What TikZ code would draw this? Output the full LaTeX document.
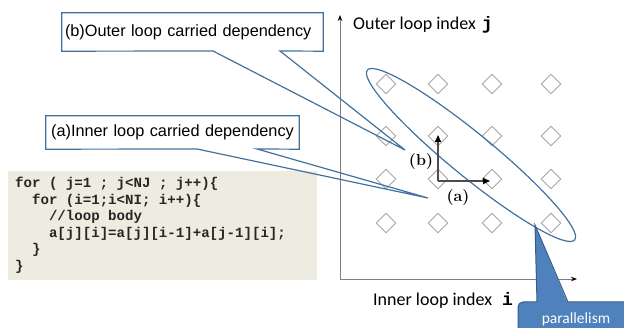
\documentclass[tikz,border=0pt]{standalone}
\usepackage{fontspec}
\newfontfamily\sansf{Liberation Sans}
\newfontfamily\codefont{Liberation Mono}
\newfontfamily\axfont{Carlito}
\usetikzlibrary{shapes.geometric,arrows.meta,calc}
\definecolor{cline}{HTML}{41719C}
\definecolor{pfill}{HTML}{4F81BD}
\definecolor{pline}{HTML}{385D8A}
\definecolor{codebg}{HTML}{EEECE1}
\definecolor{diamgray}{HTML}{A6A6A6}
\definecolor{axgray}{HTML}{808080}
\begin{document}
\begin{tikzpicture}[x=1pt,y=-1pt,
  diam/.style={diamond, draw=diamgray, line width=0.9pt, minimum width=20pt, minimum height=20pt, inner sep=0pt},
  calloutline/.style={draw=cline, line width=1.2pt, line join=miter},
  calloutbox/.style={font=\sansf\fontsize{16.3}{18}\selectfont, inner ysep=0pt},
  codeline/.style={anchor=mid west, inner sep=0pt, font=\codefont\bfseries\fontsize{14.1}{16}\selectfont, text=black!85},
  axlab/.style={anchor=mid west, inner sep=0pt, font=\axfont\fontsize{18}{20}\selectfont},
  deplab/.style={inner sep=0pt, font=\fontsize{16}{18}\selectfont\bfseries},
  deparrow/.style={draw=black!70, line width=1.6pt, -{Triangle[length=7pt,width=6pt,color=black]}},
  axis/.style={draw=axgray, line width=0.9pt, -{Stealth[length=6pt,width=4.5pt,color=black]}}
]
\useasboundingbox (0,0) rectangle (624,328);

% code box
\node[fill=codebg, minimum width=309pt, minimum height=109pt, inner sep=0pt, anchor=north west] (codebox) at (8,171) {};
\node[codeline] (c1) at (15,185) {for ( j=1 ; j<NJ ; j++)\{};
\node[codeline] (c2) at (31.9,202) {for (i=1;i<NI; i++)\{};
\node[codeline] (c3) at (48.8,218) {//loop body};
\node[codeline] (c4) at (48.8,235) {a[j][i]=a[j][i-1]+a[j-1][i];};
\node[codeline] (c5) at (31.9,251) {\}};
\node[codeline] (c6) at (15,268) {\}};

% axes
\coordinate (orig) at (340,279);
\coordinate (ytop) at (340,15);
\coordinate (xend) at (577,279);
\draw[axis] (orig) -- (ytop);
\draw[axis] (orig) -- (xend);
\node[axlab] (ylab) at (353,27) {Outer loop index\hspace{6pt}{\codefont\bfseries j}};
\node[axlab] (xlab) at (373,303) {Inner loop index\hspace{10pt}{\codefont\bfseries i}};

% diamonds
\foreach \r/\y in {1/84,2/136,3/179,4/223}{
  \foreach \c/\x in {1/386,2/438,3/492,4/551}{
    \node[diam] (d\r\c) at (\x,\y) {};
  }
}

% ellipse (wavefront)
\draw[cline, line width=1.2pt, shift={(471,155)}, rotate=-39.3] (0,0) ellipse [x radius=134pt, y radius=21.5pt];

% callout (b)
\node[calloutbox, text width=255pt, align=left, inner xsep=3pt, minimum height=38pt] (boxb) at (192.5,32) {(b)Outer loop carried dependency};
\coordinate (bb1) at (213,51);
\coordinate (bb2) at (280,51);
\coordinate (tipb) at (405,150);
\draw[calloutline] (boxb.south west) -- (bb1) -- (tipb) -- (bb2) -- (boxb.south east) -- (boxb.north east) -- (boxb.north west) -- cycle;

% callout (a)
\node[calloutbox, text width=245pt, align=center, inner xsep=4pt, minimum height=33pt] (boxa) at (172.5,132.5) {(a)Inner loop carried dependency};
\coordinate (ab1) at (197,149);
\coordinate (ab2) at (257,149);
\coordinate (tipa) at (428,198);
\draw[calloutline] (boxa.south west) -- (ab1) -- (tipa) -- (ab2) -- (boxa.south east) -- (boxa.north east) -- (boxa.north west) -- cycle;

% dependency arrows
\coordinate (o) at (438,181);
\coordinate (ta) at (490,181);
\coordinate (tb) at (438,135);
\draw[deparrow] (o) -- (tb);
\draw[deparrow] (o) -- (ta);
\node[deplab] (lb) at (421,162) {(b)};
\node[deplab] (la) at (458,198) {(a)};

% parallelism callout
\node[fill=pfill, draw=pline, line width=1pt, rounded corners=5pt, minimum width=116pt, minimum height=34pt, text=white, font=\axfont\fontsize{15.5}{17}\selectfont] (par) at (576,319) {parallelism};
\coordinate (pb1) at (537,302);
\coordinate (pb2) at (568,302);
\coordinate (tipp) at (535,225);
\fill[pfill] ($(pb1)+(0,2)$) -- (tipp) -- ($(pb2)+(0,2)$) -- cycle;
\draw[pline, line width=1pt, line join=miter] (pb1) -- (tipp) -- (pb2);
\end{tikzpicture}
\end{document}
